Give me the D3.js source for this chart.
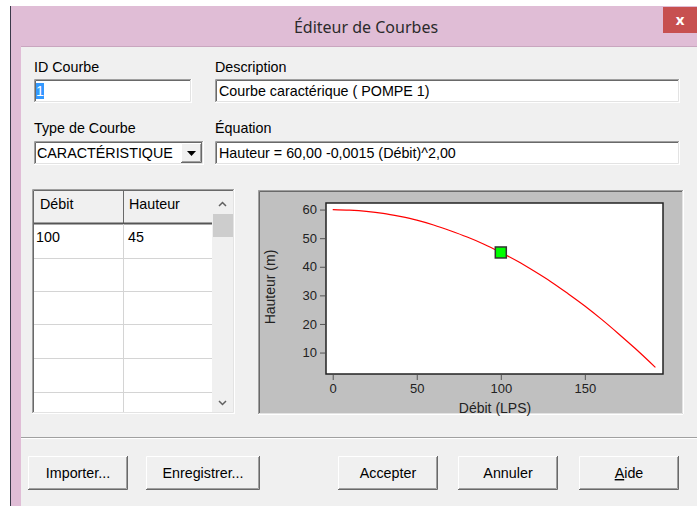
<!DOCTYPE html>
<html><head><meta charset="utf-8">
<script src="https://cdn.jsdelivr.net/npm/d3@7"></script>
<style>
body{margin:0;background:#fff;}
svg{display:block;font-family:"Liberation Sans",Arial,sans-serif;}
</style>
</head><body>
<svg id="c" width="697" height="506"></svg>
<script>
// ---- data ----
const curveFlow = [0, 10, 20, 30, 40, 50, 60, 70, 80, 90, 100, 110, 120, 130, 140, 150, 160, 170, 180, 192];
const curveHead = [60, 59.8, 59.4, 58.7, 57.6, 56.3, 54.6, 52.6, 50.4, 47.9, 45, 41.9, 38.4, 34.7, 30.6, 26.3, 21.6, 16.6, 11.4, 4.8];
const tableFlow = [100];
const tableHead = [45];
const xTicks = [0, 50, 100, 150];
const yTicks = [10, 20, 30, 40, 50, 60];
const xTitle = "Débit (LPS)";
const yTitle = "Hauteur (m)";
const columnHeaders = ["Débit", "Hauteur"];
const buttonLabels = ["Importer...", "Enregistrer...", "Accepter", "Annuler", "Aide"];

const svg = d3.select("#c");
const FS = 14.3;

// ---- window chrome ----
svg.append("rect").attr("x", 10).attr("y", 6).attr("width", 1).attr("height", 500).attr("fill", "#3a3a4a");
svg.append("rect").attr("x", 11).attr("y", 6).attr("width", 686).attr("height", 500).attr("fill", "#e0bdd6");
svg.append("rect").attr("x", 21).attr("y", 46).attr("width", 676).attr("height", 460).attr("fill", "#f0f0f0");
svg.append("line").attr("x1", 21).attr("x2", 697).attr("y1", 46.5).attr("y2", 46.5).attr("stroke", "#c9a6bf");
svg.append("rect").attr("x", 663).attr("y", 7).attr("width", 34).attr("height", 26).attr("fill", "#c75050");
svg.append("text").attr("x", 680).attr("y", 25).attr("text-anchor", "middle")
  .attr("font-family", "Noto Sans").attr("font-size", 15).attr("font-weight", "bold").attr("fill", "#fff").text("x");
svg.append("text").attr("x", 366).attr("y", 33).attr("text-anchor", "middle")
  .attr("font-family", "Noto Sans").attr("font-size", 16).attr("fill", "#2b2b2b").text("Éditeur de Courbes");

function sunken(x, y, w, h, fill) {
  const g = svg.append("g");
  g.append("rect").attr("x", x).attr("y", y).attr("width", w).attr("height", h).attr("fill", fill);
  g.append("path").attr("d", `M${x+0.5},${y+h} V${y+0.5} H${x+w}`).attr("stroke", "#a0a0a0").attr("fill", "none");
  g.append("path").attr("d", `M${x+1.5},${y+h-1} V${y+1.5} H${x+w-1}`).attr("stroke", "#696969").attr("fill", "none");
  g.append("path").attr("d", `M${x},${y+h-0.5} H${x+w-0.5} V${y}`).attr("stroke", "#ffffff").attr("fill", "none");
  g.append("path").attr("d", `M${x+1},${y+h-1.5} H${x+w-1.5} V${y+1}`).attr("stroke", "#e3e3e3").attr("fill", "none");
  return g;
}
function raised(x, y, w, h, fill) {
  const g = svg.append("g");
  g.append("rect").attr("x", x).attr("y", y).attr("width", w).attr("height", h).attr("fill", fill);
  g.append("path").attr("d", `M${x+0.5},${y+h} V${y+0.5} H${x+w}`).attr("stroke", "#ffffff").attr("fill", "none");
  g.append("path").attr("d", `M${x},${y+h-0.5} H${x+w-0.5} V${y}`).attr("stroke", "#696969").attr("fill", "none");
  g.append("path").attr("d", `M${x+1},${y+h-1.5} H${x+w-1.5} V${y+1}`).attr("stroke", "#a0a0a0").attr("fill", "none");
  return g;
}
function label(x, y, t, opts = {}) {
  return svg.append("text").attr("x", x).attr("y", y).attr("font-size", opts.size || FS)
    .attr("fill", opts.fill || "#000").attr("text-anchor", opts.anchor || "start").text(t);
}

// ---- top fields ----
label(34, 72, "ID Courbe");
label(215, 72, "Description");
sunken(34, 79, 158, 24, "#fff");
svg.append("rect").attr("x", 36).attr("y", 83).attr("width", 8).attr("height", 16).attr("fill", "#3399ff");
label(36, 96, "1", {fill: "#fff"});
sunken(215, 79, 465, 24, "#fff");
label(219, 96, "Courbe caractérique ( POMPE 1)");

label(34, 133, "Type de Courbe");
label(215, 133, "Équation");
sunken(34, 141, 170, 24, "#fff");
label(37, 158, "CARACTÉRISTIQUE");
raised(181, 143, 21, 20, "#f0f0f0");
svg.append("path").attr("d", "M187,151 h9 l-4.5,5 z").attr("fill", "#000");
sunken(215, 141, 465, 24, "#fff");
label(219, 158, "Hauteur = 60,00 -0,0015 (Débit)^2,00");

// ---- table ----
const tX = 32, tY = 189, tW = 203, tH = 225, colX = [tX + 2, 123, 212];
sunken(tX, tY, tW, tH, "#fff");
svg.append("rect").attr("x", colX[0]).attr("y", tY + 2).attr("width", colX[2] - colX[0]).attr("height", 33).attr("fill", "#f0f0f0");
svg.append("line").attr("x1", colX[1] + 0.5).attr("x2", colX[1] + 0.5).attr("y1", tY + 2).attr("y2", 224).attr("stroke", "#696969");
svg.append("line").attr("x1", colX[0]).attr("x2", colX[2]).attr("y1", 223.5).attr("y2", 223.5).attr("stroke", "#555").attr("stroke-width", 2);
columnHeaders.forEach((h, i) => label(colX[i] + 6, 209, h));
const rowY = [224, 258, 291, 324, 358, 392, 412];
rowY.slice(1, -1).forEach(y => svg.append("line").attr("x1", colX[0]).attr("x2", colX[2]).attr("y1", y + 0.5).attr("y2", y + 0.5).attr("stroke", "#d4d4d4"));
svg.append("line").attr("x1", colX[1] + 0.5).attr("x2", colX[1] + 0.5).attr("y1", 224).attr("y2", 412).attr("stroke", "#d4d4d4");
tableFlow.forEach((f, i) => {
  label(colX[0] + 2, rowY[i] + 18, String(f));
  label(colX[1] + 5, rowY[i] + 18, String(tableHead[i]));
});
// scrollbar
svg.append("rect").attr("x", 212).attr("y", 191).attr("width", 21).attr("height", 221).attr("fill", "#f0f0f0");
svg.append("rect").attr("x", 213).attr("y", 214).attr("width", 20).attr("height", 23).attr("fill", "#cdcdcd");
svg.append("path").attr("d", "M219,206 l3.5,-3.5 l3.5,3.5").attr("stroke", "#606060").attr("stroke-width", 1.5).attr("fill", "none");
svg.append("path").attr("d", "M219,401 l3.5,3.5 l3.5,-3.5").attr("stroke", "#606060").attr("stroke-width", 1.5).attr("fill", "none");

// ---- chart panel ----
sunken(258, 190, 426, 225, "#c0c0c0");
const plot = {l: 326, t: 203, r: 663, b: 374};
const x = d3.scaleLinear().domain([-4, 196.5]).range([plot.l, plot.r]);
const y = d3.scaleLinear().domain([2.5, 62.3]).range([plot.b, plot.t]);
svg.append("rect").attr("x", plot.l).attr("y", plot.t).attr("width", plot.r - plot.l).attr("height", plot.b - plot.t)
  .attr("fill", "#fff").attr("stroke", "#222").attr("stroke-width", 1.5);

const xAxis = svg.append("g").attr("transform", `translate(0,${plot.b + 1})`)
  .call(d3.axisBottom(x).tickValues(xTicks).tickSize(5).tickPadding(4).tickFormat(d3.format("d")));
const yAxis = svg.append("g").attr("transform", `translate(${plot.l - 1},0)`)
  .call(d3.axisLeft(y).tickValues(yTicks).tickSize(5).tickPadding(3).tickFormat(d3.format("d")));
[xAxis, yAxis].forEach(a => {
  a.select(".domain").remove();
  a.selectAll(".tick line").attr("stroke", "#555");
  a.selectAll(".tick text").attr("font-size", 13).attr("fill", "#222").attr("font-family", "Liberation Sans");
});

svg.append("text").attr("x", 495).attr("y", 413).attr("text-anchor", "middle").attr("font-size", 14).attr("fill", "#222").text(xTitle);
svg.append("text").attr("transform", "translate(275,287) rotate(-90)").attr("text-anchor", "middle").attr("font-size", 14).attr("fill", "#222").text(yTitle);

const pts = curveFlow.map((f, i) => [f, curveHead[i]]);
svg.append("path").datum(pts)
  .attr("d", d3.line().x(d => x(d[0])).y(d => y(d[1])).curve(d3.curveMonotoneX))
  .attr("fill", "none").attr("stroke", "#ff0000").attr("stroke-width", 1.2);

svg.selectAll("rect.pt").data(tableFlow.map((f, i) => [f, tableHead[i]])).enter().append("rect")
  .attr("class", "pt").attr("x", d => x(d[0]) - 5.5).attr("y", d => y(d[1]) - 5.5)
  .attr("width", 11).attr("height", 11).attr("fill", "#00ff00").attr("stroke", "#333").attr("stroke-width", 1.5);

// ---- bottom ----
svg.append("line").attr("x1", 21).attr("x2", 697).attr("y1", 437.5).attr("y2", 437.5).attr("stroke", "#a0a0a0");
svg.append("line").attr("x1", 21).attr("x2", 697).attr("y1", 438.5).attr("y2", 438.5).attr("stroke", "#ffffff");
const btnX = [28, 146, 338, 458, 579], btnW = [100, 114, 100, 100, 100];
buttonLabels.forEach((b, i) => {
  raised(btnX[i], 456, btnW[i], 34, "#f0f0f0");
  const t = label(btnX[i] + btnW[i] / 2, 478, "", {anchor: "middle"});
  if (b === "Aide") {
    t.append("tspan").attr("text-decoration", "underline").text("A");
    t.append("tspan").text("ide");
  } else t.text(b);
});
</script>
</body></html>
